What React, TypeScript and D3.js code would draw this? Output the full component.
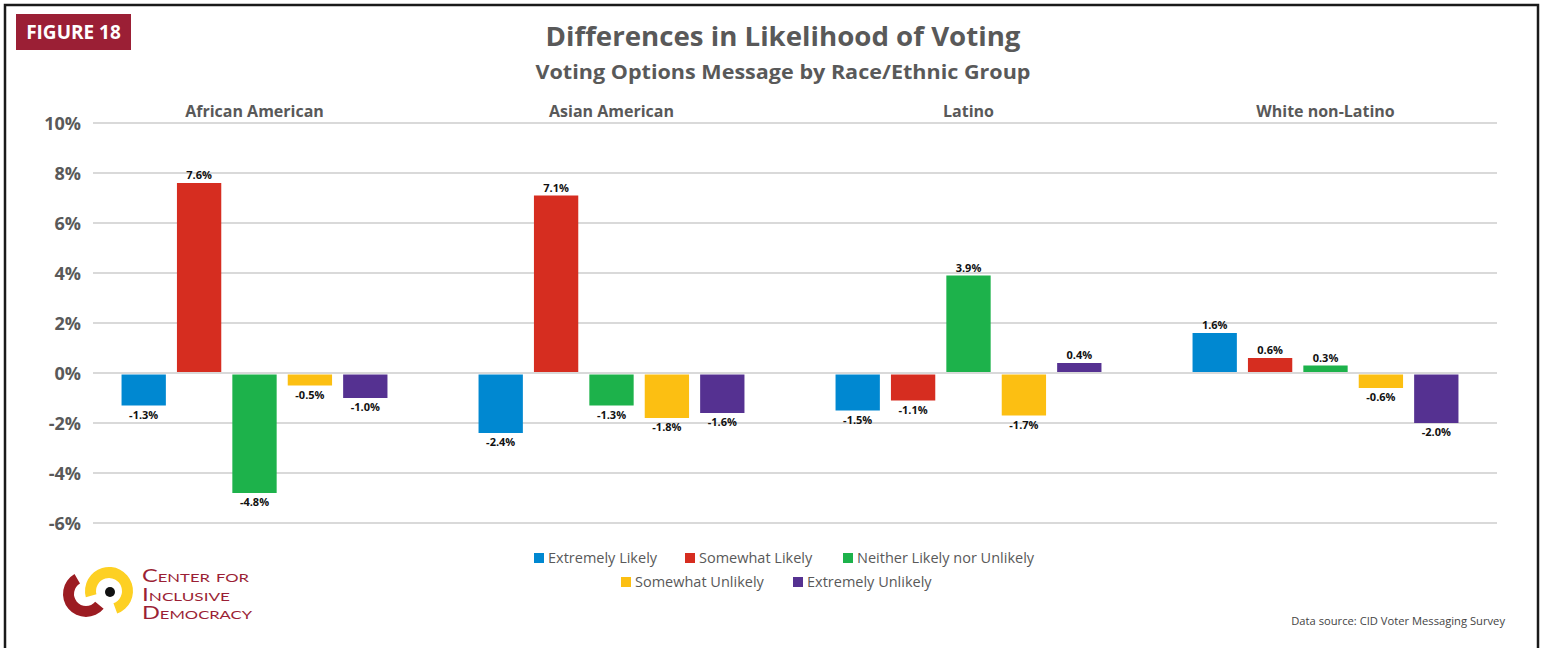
import React from "react";
import * as d3 from "d3";

const groups = ["African American", "Asian American", "Latino", "White non-Latino"];
const seriesNames = ["Extremely Likely", "Somewhat Likely", "Neither Likely nor Unlikely", "Somewhat Unlikely", "Extremely Unlikely"];
const seriesColors = ["#0088d1", "#d62d20", "#1db24b", "#fcbf12", "#553191"];
const extremelyLikely = [-1.3, -2.4, -1.5, 1.6];
const somewhatLikely = [7.6, 7.1, -1.1, 0.6];
const neither = [-4.8, -1.3, 3.9, 0.3];
const somewhatUnlikely = [-0.5, -1.8, -1.7, -0.6];
const extremelyUnlikely = [-1.0, -1.6, 0.4, -2.0];
const seriesValues = [extremelyLikely, somewhatLikely, neither, somewhatUnlikely, extremelyUnlikely];
const yTicks = [-6, -4, -2, 0, 2, 4, 6, 8, 10];

const W = 1544;
const H = 648;
const GRAY = "#595959";
const FONT = "'Open Sans', 'Noto Sans', sans-serif";
const MAROON = "#9b1f35";

export default function App() {
  const y = d3.scaleLinear().domain([-6, 10]).range([523, 123]);
  const x0 = d3.scaleBand<string>().domain(groups).range([76, 1504]).padding(0);
  const x1 = d3.scaleBand<number>().domain(d3.range(5)).range([-138.5, 138.5]).paddingInner(0.2).paddingOuter(0.1);

  const redArc = d3.arc()({ innerRadius: 12, outerRadius: 23, startAngle: (130 * Math.PI) / 180, endAngle: (330 * Math.PI) / 180 }) as string;
  const yelArc = d3.arc()({ innerRadius: 13, outerRadius: 24, startAngle: (-105 * Math.PI) / 180, endAngle: (160 * Math.PI) / 180 }) as string;

  const legendRow1 = [0, 1, 2];
  const legendRow2 = [3, 4];
  const legendX1 = [534, 685, 843];
  const legendX2 = [621, 793];

  return (
    <svg width={W} height={H} style={{ position: "absolute", left: 0, top: 0, background: "#fff" }} fontFamily={FONT}>
      <rect x={0} y={0} width={W} height={H} fill="#fff" />
      <rect x={5} y={5} width={1533} height={700} fill="none" stroke="#1a1a1a" strokeWidth={2.5} />

      {/* Figure tag */}
      <rect x={16} y={14} width={115} height={36} fill={MAROON} />
      <text x={73.5} y={38.5} textAnchor="middle" fill="#fff" fontWeight={700} fontSize={19}>FIGURE 18</text>

      {/* Titles */}
      <text x={783} y={46} textAnchor="middle" fill={GRAY} fontWeight={700} fontSize={27} textLength={475} lengthAdjust="spacingAndGlyphs">Differences in Likelihood of Voting</text>
      <text x={783} y={79} textAnchor="middle" fill={GRAY} fontWeight={700} fontSize={19} textLength={495} lengthAdjust="spacingAndGlyphs">Voting Options Message by Race/Ethnic Group</text>

      {/* Gridlines */}
      {yTicks.map((t) => (
        <g key={t}>
          <line x1={93} x2={1497} y1={y(t)} y2={y(t)} stroke="#d9d9d9" strokeWidth={2} />
          <text x={81} y={y(t) + 6.5} textAnchor="end" fill={GRAY} fontWeight={700} fontSize={18}>{`${t}%`}</text>
        </g>
      ))}

      {/* Group labels */}
      {groups.map((g) => (
        <text key={g} x={(x0(g) as number) + x0.bandwidth() / 2} y={117} textAnchor="middle" fill={GRAY} fontWeight={700} fontSize={16}>{g}</text>
      ))}

      {/* Bars */}
      {groups.map((g, gi) => {
        const cx = (x0(g) as number) + x0.bandwidth() / 2;
        return (
          <g key={g}>
            {seriesValues.map((vals, si) => {
              const v = vals[gi];
              const bx = cx + (x1(si) as number);
              const top = v >= 0 ? y(v) : y(0) + 1.5;
              const h = v >= 0 ? y(0) - 1 - y(v) : y(v) - y(0) - 1.5;
              const lx = bx + x1.bandwidth() / 2;
              const ly = v >= 0 ? y(v) - 4 : y(v) + 13;
              return (
                <g key={si}>
                  <rect x={bx} y={top} width={x1.bandwidth()} height={Math.max(h, 1)} fill={seriesColors[si]} />
                  <text x={lx} y={ly} textAnchor="middle" fill="#111" fontWeight={700} fontSize={11}>{`${v.toFixed(1)}%`}</text>
                </g>
              );
            })}
          </g>
        );
      })}

      {/* Legend */}
      {legendRow1.map((si, i) => (
        <g key={si}>
          <rect x={legendX1[i]} y={553} width={10} height={10} fill={seriesColors[si]} />
          <text x={legendX1[i] + 14} y={563} fill={GRAY} fontSize={14.5}>{seriesNames[si]}</text>
        </g>
      ))}
      {legendRow2.map((si, i) => (
        <g key={si}>
          <rect x={legendX2[i]} y={577} width={10} height={10} fill={seriesColors[si]} />
          <text x={legendX2[i] + 14} y={587} fill={GRAY} fontSize={14.5}>{seriesNames[si]}</text>
        </g>
      ))}

      {/* Logo */}
      <path d={redArc} transform="translate(86,594)" fill="#9c1c22" />
      <path d={yelArc} transform="translate(109,591)" fill="#fdd023" />
      <circle cx={110} cy={592} r={5} fill="#111" />
      <g fill={MAROON} fontFamily="'Lato', 'Noto Sans', sans-serif" fontSize={17} style={{ fontVariant: "small-caps" }}>
        <text x={142} y={582} textLength={107} lengthAdjust="spacingAndGlyphs">Center for</text>
        <text x={142} y={600.5} textLength={88} lengthAdjust="spacingAndGlyphs">Inclusive</text>
        <text x={142} y={619} textLength={110} lengthAdjust="spacingAndGlyphs">Democracy</text>
      </g>

      <text x={1505} y={625} textAnchor="end" fill="#444" fontSize={11.2}>Data source: CID Voter Messaging Survey</text>
    </svg>
  );
}
